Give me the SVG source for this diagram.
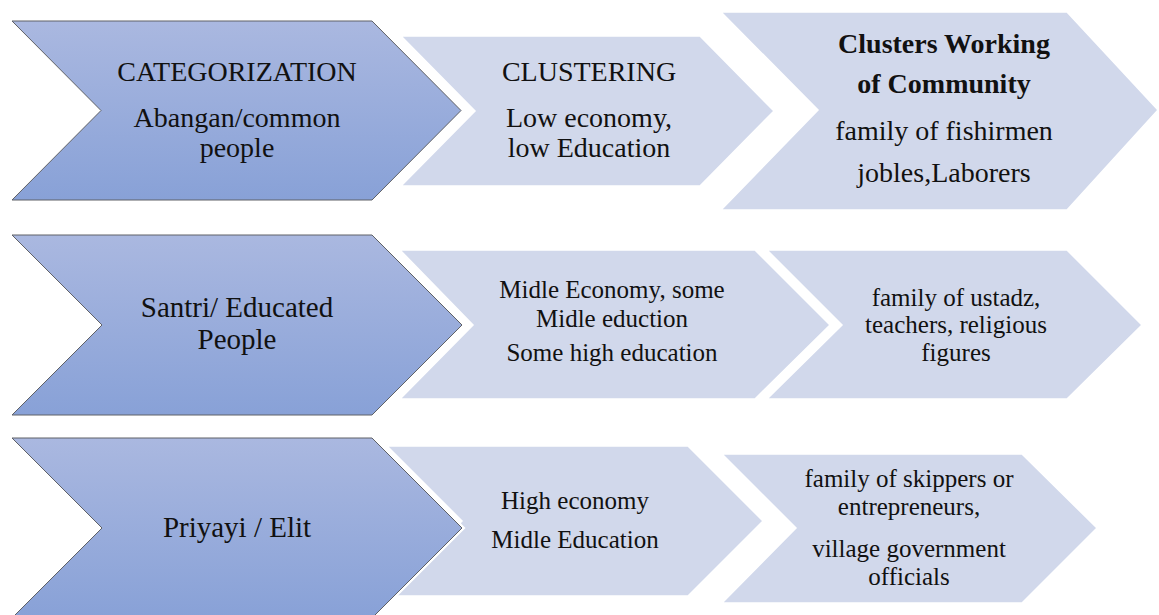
<svg xmlns="http://www.w3.org/2000/svg" width="1159" height="615" viewBox="0 0 1159 615">
<defs>
<linearGradient id="gBig" x1="0" y1="0" x2="0" y2="1">
<stop offset="0" stop-color="#aab8e0"/>
<stop offset="1" stop-color="#88a1d7"/>
</linearGradient>
<style>
.big{fill:url(#gBig);stroke:#5f6166;stroke-width:1}
.halo{fill:none;stroke:#ffffff;stroke-width:5}
.light{fill:#d1d8eb;stroke:#ffffff;stroke-width:1.5}
text{font-family:"Liberation Serif","Times New Roman",serif;fill:#111;text-anchor:middle}
.t28{font-size:28px}
.t29{font-size:29px}
.t25{font-size:25px}
.b{font-weight:bold}
</style>
</defs>
<rect width="1159" height="615" fill="#ffffff"/>
<g id="connectors"></g>

<g id="row1-col2">
<polygon class="light" points="401,36 700,36 774,111 700,186 401,186 475,111"/>
<text class="t28" x="589" y="81">CLUSTERING</text>
<text class="t28" x="589" y="127">Low economy,</text>
<text class="t28" x="589" y="157">low Education</text>
</g>
<g id="row1-col3">
<polygon class="light" points="721,12 1067,12 1158,110 1067,210 721,210 818,110"/>
<text class="t28 b" x="944" y="53">Clusters Working</text>
<text class="t28 b" x="944" y="93">of Community</text>
<text class="t28" x="944" y="140">family of fishirmen</text>
<text class="t28" x="944" y="182">jobles,Laborers</text>
</g>
<g id="row1-col1">
<polygon class="big" points="12,21 372,21 461,110.5 372,200 12,200 101,110.5"/>
<text class="t28" x="237" y="81">CATEGORIZATION</text>
<text class="t28" x="237" y="127">Abangan/common</text>
<text class="t28" x="237" y="157">people</text>
</g>

<g id="row2-col2">
<polygon class="light" points="400,250 755,250 830,325 755,399 400,399 473,325"/>
<text class="t25" x="612" y="298">Midle Economy, some</text>
<text class="t25" x="612" y="327">Midle eduction</text>
<text class="t25" x="612" y="361">Some high education</text>
</g>
<g id="row2-col3">
<polygon class="light" points="767,250 1067,250 1142,325 1067,399 767,399 842,325"/>
<text class="t25" x="956" y="306">family of ustadz,</text>
<text class="t25" x="956" y="333">teachers, religious</text>
<text class="t25" x="956" y="361">figures</text>
</g>
<g id="row2-col1">
<polygon class="big" points="12,235 372,235 462,325 372,415 12,415 102,325"/>
<text class="t29" x="237" y="317">Santri/ Educated</text>
<text class="t29" x="237" y="349">People</text>
</g>

<g id="row3-col2">
<polygon class="light" points="387,446 688,446 763,521 688,596 387,596 462,521"/>
<text class="t25" x="575" y="509">High economy</text>
<text class="t25" x="575" y="548">Midle Education</text>
</g>
<g id="row3-col3">
<polygon class="light" points="722,454 1022,454 1097,528 1022,603 722,603 796,528"/>
<text class="t25" x="909" y="487">family of skippers or</text>
<text class="t25" x="909" y="515">entrepreneurs,</text>
<text class="t25" x="909" y="557">village government</text>
<text class="t25" x="909" y="585">officials</text>
</g>
<g id="row3-col1">
<polygon class="halo" points="12,438 372,438 462,528 372,618 12,618 102,528"/>
<polygon class="big" points="12,438 372,438 462,528 372,618 12,618 102,528"/>
<text class="t29" x="237" y="537">Priyayi / Elit</text>
</g>
</svg>
